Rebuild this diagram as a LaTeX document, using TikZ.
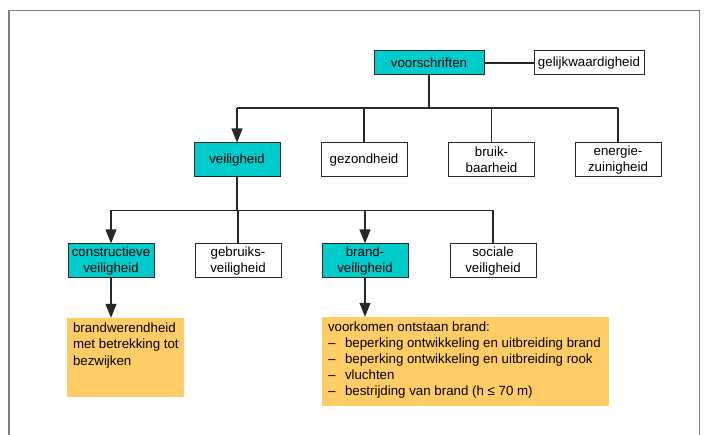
\documentclass[tikz,border=0pt]{standalone}
\usepackage{fontspec}
\setmainfont{Liberation Sans}
\usetikzlibrary{arrows.meta}
\definecolor{tealbox}{RGB}{0,204,204}
\definecolor{orangebox}{RGB}{255,204,102}
\definecolor{lineclr}{RGB}{40,40,40}
\definecolor{frameclr}{RGB}{128,128,128}
\begin{document}
\begin{tikzpicture}[x=1pt,y=-1pt,
  txt/.style={font=\fontsize{13.3}{16.2}\selectfont},
  box/.style={txt,draw=lineclr,line width=1pt,inner sep=0pt,align=center,minimum width=86pt,minimum height=34pt},
  tealb/.style={box,fill=tealbox},
  whiteb/.style={box,fill=white},
  orangeb/.style={fill=orangebox,inner sep=0pt},
  conn/.style={draw=lineclr,line width=1.1pt},
  arr/.style={conn,-{Triangle[length=14pt,width=11pt]}},
  frame/.style={draw=frameclr,line width=1.5pt}]
\useasboundingbox (0,0) rectangle (704,435);
\draw[frame] (9,436) -- (9,10.5) -- (699.5,10.5) -- (699.5,436);

\node[tealb,minimum width=110pt,minimum height=24pt] (vs) at (429,63) {voorschriften};
\node[whiteb,minimum width=110pt,minimum height=24pt] (gw) at (589,63) {gelijkwaardigheid};

\node[tealb] (vh) at (237,160) {veiligheid};
\node[whiteb] (gz) at (364,160) {gezondheid};
\node[whiteb] (bb) at (491.5,160) {bruik-\\baarheid};
\node[whiteb] (ez) at (618,160) {energie-\\zuinigheid};

\node[tealb] (cv) at (111,261) {constructieve\\veiligheid};
\node[whiteb] (gv) at (238,261) {gebruiks-\\veiligheid};
\node[tealb] (bv) at (365,261) {brand-\\veiligheid};
\node[whiteb] (sv) at (493,261) {sociale\\veiligheid};

\node[orangeb,minimum width=117pt,minimum height=79pt] (bw) at (125.5,357.5) {};
\node[orangeb,minimum width=287pt,minimum height=89pt] (vk) at (465.5,361.5) {};
\node[txt,anchor=north west,inner sep=0pt,align=left] (bwt) at ([shift={(6,5)}]bw.north west)
  {brandwerendheid\\met betrekking tot\\bezwijken};
\node[txt,anchor=north west,inner sep=0pt,align=left] (vkt) at ([shift={(6,4.5)}]vk.north west)
  {voorkomen ontstaan brand:\\
   \makebox[17pt][l]{–}beperking ontwikkeling en uitbreiding brand\\
   \makebox[17pt][l]{–}beperking ontwikkeling en uitbreiding rook\\
   \makebox[17pt][l]{–}vluchten\\
   \makebox[17pt][l]{–}bestrijding van brand (h ≤ 70 m)};

% level 1
\coordinate (b1L) at (237,108);
\coordinate (b1R) at (618,108);
\draw[conn] (vs) -- (gw);
\draw[conn] (vs.south) -- (vs.south |- b1L);
\draw[conn] (b1L) -- (b1R);
\draw[arr] (b1L) -- (vh.north);
\draw[conn] (gz.north) -- (gz.north |- b1L);
\draw[conn] (bb.north) -- (bb.north |- b1L);
\draw[conn] (ez.north) -- (ez.north |- b1L);

% level 2
\coordinate (b2L) at (111,210.5);
\coordinate (b2R) at (492,210.5);
\draw[conn] (vh.south) -- (vh.south |- b2L);
\draw[conn] (b2L) -- (b2R);
\draw[arr] (b2L) -- (cv.north);
\draw[conn] (gv.north) -- (gv.north |- b2L);
\draw[arr] (bv.north |- b2L) -- (bv.north);
\draw[conn] (sv.north) -- (sv.north |- b2L);

% level 3
\draw[arr] (cv.south) -- (cv.south |- bw.north);
\draw[arr] (bv.south) -- (bv.south |- vk.north);
\end{tikzpicture}
\end{document}
